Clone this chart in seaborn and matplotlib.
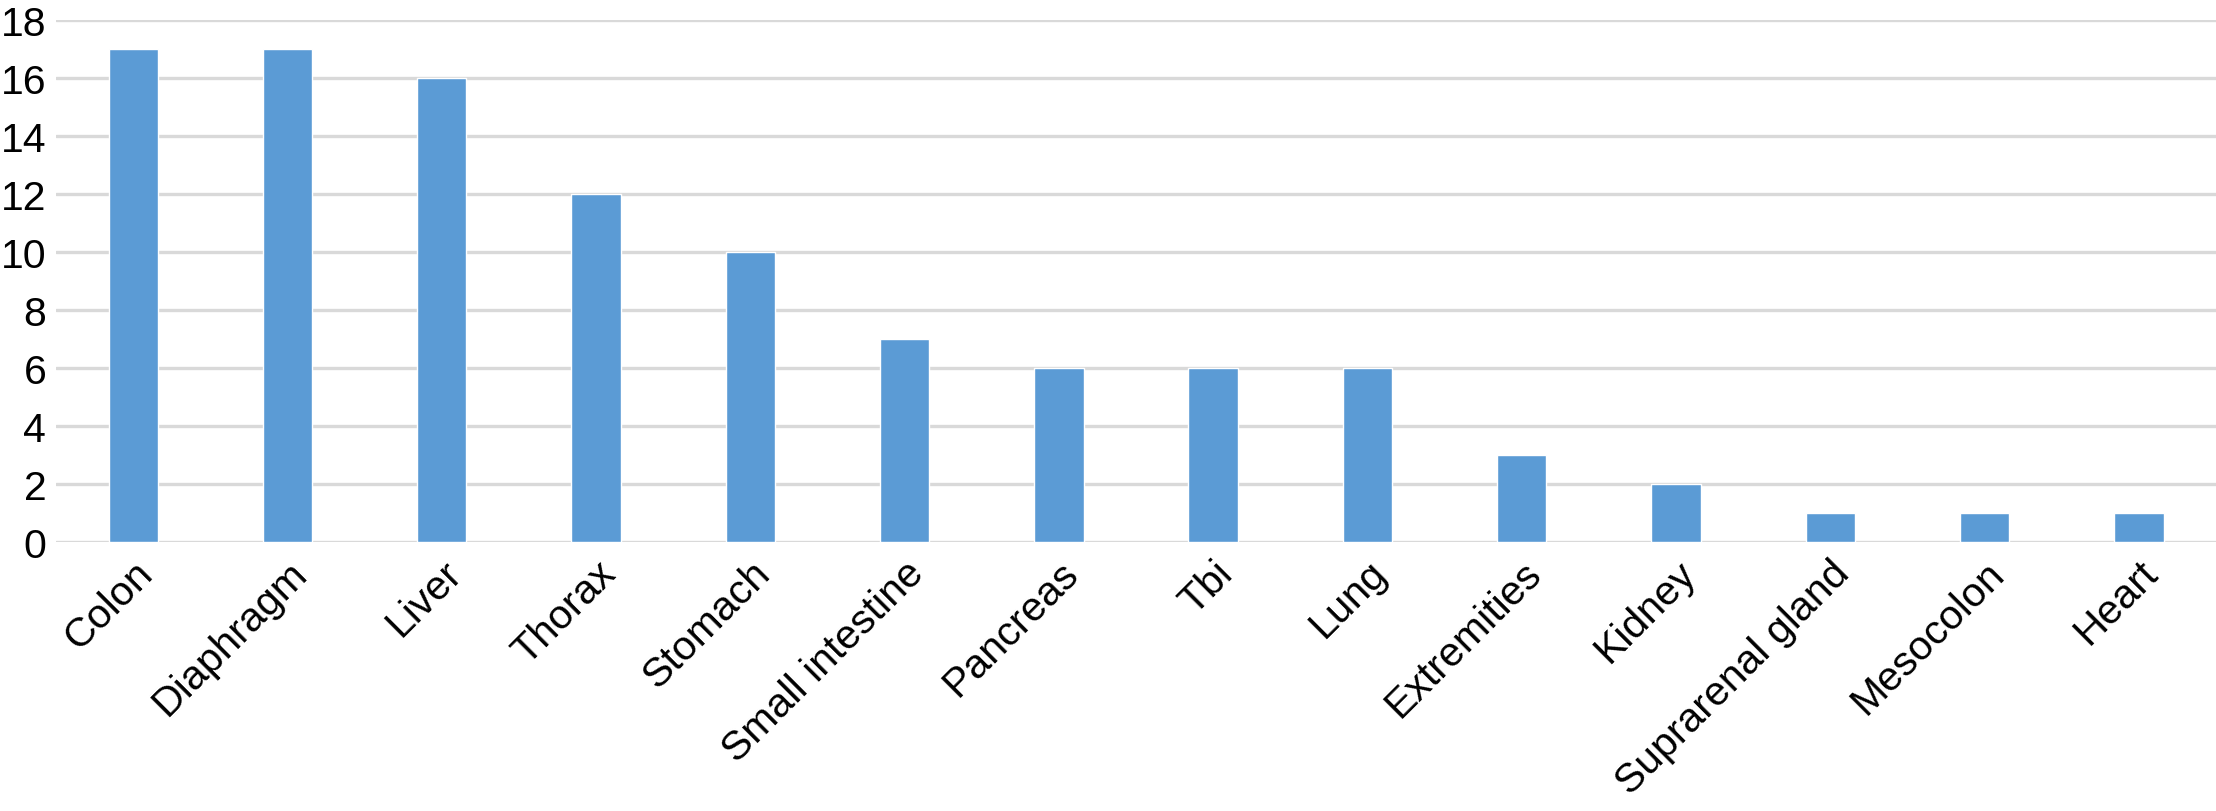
import pandas as pd
import seaborn as sns
import matplotlib.pyplot as plt

# Data
sites = ["Colon", "Diaphragm", "Liver", "Thorax", "Stomach", "Small intestine",
         "Pancreas", "Tbi", "Lung", "Extremities", "Kidney", "Suprarenal gland",
         "Mesocolon", "Heart"]
counts = [17, 17, 16, 12, 10, 7, 6, 6, 6, 3, 2, 1, 1, 1]
y_ticks = [0, 2, 4, 6, 8, 10, 12, 14, 16, 18]

df = pd.DataFrame({"site": sites, "count": counts})

sns.set_style("white")
plt.rcParams['font.family'] = ['Liberation Sans', 'DejaVu Sans']

fig = plt.figure(figsize=(22.16, 8.12), dpi=100)
ax = fig.add_axes([0.0253, 0.3313, 0.9747, 0.6428])

sns.barplot(data=df, x="site", y="count", color="#5b9bd5", width=0.32,
            saturation=1, ax=ax, zorder=3)

ax.set_ylim(0, 18)
ax.set_xlim(-0.5, len(sites) - 0.5)
ax.set_yticks(y_ticks)
ax.yaxis.grid(True, color="#d9d9d9", linewidth=2.4, zorder=0)
ax.set_axisbelow(True)
for s in ax.spines.values():
    s.set_visible(False)

ax.tick_params(axis="both", length=0, labelsize=29.5, colors="black")
ax.tick_params(axis="y", pad=7)
ax.tick_params(axis="x", pad=8)
plt.setp(ax.get_xticklabels(), rotation=45, ha="right", rotation_mode="anchor")
ax.set_xlabel("")
ax.set_ylabel("")

plt.savefig("out.png", dpi=100)
